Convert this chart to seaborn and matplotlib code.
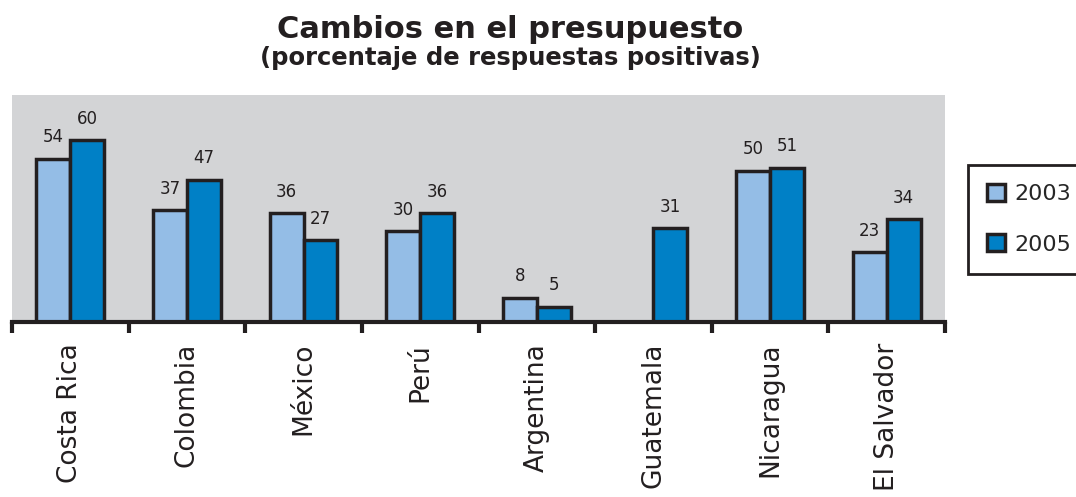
import numpy as np
import pandas as pd
import seaborn as sns
import matplotlib.pyplot as plt

# datos del grafico
paises = ['Costa Rica', 'Colombia', 'México', 'Perú', 'Argentina',
          'Guatemala', 'Nicaragua', 'El Salvador']
valores_2003 = [54, 37, 36, 30, 8, np.nan, 50, 23]
valores_2005 = [60, 47, 27, 36, 5, 31, 51, 34]
anios = ['2003', '2005']
colores = ['#94bde6', '#0080c6']

df = pd.DataFrame({
    'pais': paises * 2,
    'anio': [anios[0]] * len(paises) + [anios[1]] * len(paises),
    'valor': valores_2003 + valores_2005,
})

sns.set_style('white')
plt.rcParams['font.family'] = ['DejaVu Sans']

fig = plt.figure(figsize=(10.76, 4.97), dpi=100)
ax = fig.add_axes([12 / 1076, 1 - 322 / 497, 933 / 1076, 227 / 497])
ax.set_facecolor('#d3d4d6')

sns.barplot(data=df, x='pais', y='valor', hue='anio', order=paises,
            hue_order=anios, palette=colores, saturation=1, width=0.58, gap=0,
            edgecolor='#231f20', linewidth=2.5, ax=ax)

# etiquetas de valores
for c in ax.containers:
    etiquetas = [f'{v:.0f}' if np.isfinite(v) else '' for v in c.datavalues]
    ax.bar_label(c, labels=etiquetas, padding=9, fontsize=12, color='#231f20')

ax.set_ylim(0, 75)
ax.set_xlim(-0.5, len(paises) - 0.5)
ax.set_yticks([])
ax.set_xlabel('')
ax.set_ylabel('')
for s in ['top', 'right', 'left']:
    ax.spines[s].set_visible(False)
ax.spines['bottom'].set_linewidth(3)
ax.spines['bottom'].set_color('#231f20')

ax.set_xticks(range(len(paises)))
ax.set_xticklabels(paises, rotation=90, fontsize=19, color='#231f20')
ax.tick_params(axis='x', which='major', length=0, pad=15)
ax.set_xticks(np.arange(-0.5, len(paises), 1), minor=True)
ax.tick_params(axis='x', which='minor', length=8, width=3, color='#231f20',
               direction='out', bottom=True)

leg = ax.legend(loc='upper left', bbox_to_anchor=(1.025, 0.69), borderaxespad=0,
                fontsize=16, frameon=True, fancybox=False, framealpha=1,
                handlelength=0.8, handleheight=0.8, labelspacing=1.35,
                handletextpad=0.4, borderpad=0.85)
leg.get_frame().set_edgecolor('#231f20')
leg.get_frame().set_linewidth(2)

fig.text(0.474, 0.94, 'Cambios en el presupuesto', ha='center', va='center',
         fontsize=22, fontweight='bold', color='#231f20')
fig.text(0.474, 0.884, '(porcentaje de respuestas positivas)', ha='center',
         va='center', fontsize=17.5, fontweight='bold', color='#231f20')

fig.savefig('out.png', dpi=100)
